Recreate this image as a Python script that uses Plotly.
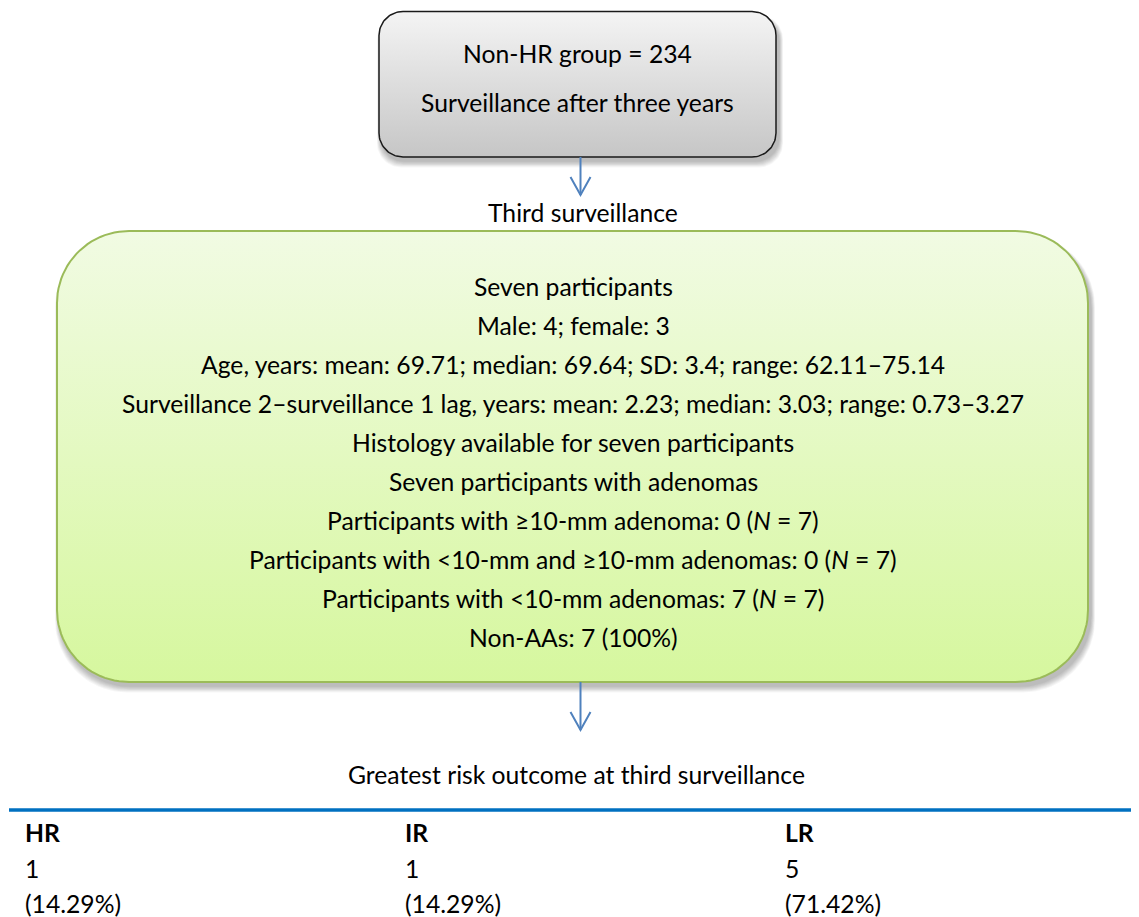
import numpy as np
import plotly.graph_objects as go

W, H = 1139, 917
OFF = 8  # page body margin
FONT = "Lato, 'Open Sans', sans-serif"
FS = 24.7

top_lines = ["Non-HR group = 234", "Surveillance after three years"]
mid_label = "Third surveillance"
green_lines = [
    "Seven participants",
    "Male: 4; female: 3",
    "Age, years: mean: 69.71; median: 69.64; SD: 3.4; range: 62.11–75.14",
    "Surveillance 2–surveillance 1 lag, years: mean: 2.23; median: 3.03; range: 0.73–3.27",
    "Histology available for seven participants",
    "Seven participants with adenomas",
    "Participants with ≥10-mm adenoma: 0 (<i>N</i> = 7)",
    "Participants with <10-mm and ≥10-mm adenomas: 0 (<i>N</i> = 7)",
    "Participants with <10-mm adenomas: 7 (<i>N</i> = 7)",
    "Non-AAs: 7 (100%)",
]
bottom_label = "Greatest risk outcome at third surveillance"
table_headers = ["HR", "IR", "LR"]
table_counts = ["1", "1", "5"]
table_pcts = ["(14.29%)", "(14.29%)", "(71.42%)"]


def rrect(x0, y0, x1, y1, r, n=24):
    xs, ys = [], []
    corners = [
        (x1 - r, y0 + r, -np.pi / 2, 0),
        (x1 - r, y1 - r, 0, np.pi / 2),
        (x0 + r, y1 - r, np.pi / 2, np.pi),
        (x0 + r, y0 + r, np.pi, 1.5 * np.pi),
    ]
    for cx, cy, a0, a1 in corners:
        t = np.linspace(a0, a1, n)
        xs.extend(cx + r * np.cos(t))
        ys.extend(cy + r * np.sin(t))
    xs.append(xs[0])
    ys.append(ys[0])
    return xs, ys


fig = go.Figure()


def shadow(x0, y0, x1, y1, r):
    for i in range(8):
        g = 8 - i
        xs, ys = rrect(x0 + 2 - g * 0.5, y0 + 6 - g * 0.3, x1 + 3 + g * 0.5, y1 + 4 + g * 0.8, r)
        fig.add_trace(go.Scatter(x=xs, y=ys, mode="lines", fill="toself",
                                 line=dict(width=0), fillcolor="rgba(0,0,0,0.035)",
                                 hoverinfo="skip", showlegend=False))


def box(x0, y0, x1, y1, r, ctop, cbot, border, bw):
    shadow(x0, y0, x1, y1, r)
    xs, ys = rrect(x0, y0, x1, y1, r)
    fig.add_trace(go.Scatter(x=xs, y=ys, mode="lines", fill="toself",
                             line=dict(color=border, width=bw),
                             fillgradient=dict(type="vertical",
                                               colorscale=[[0, cbot], [1, ctop]]),
                             hoverinfo="skip", showlegend=False))


box(379, 11.5, 776, 157, 24, "#f4f4f4", "#c6c6c6", "#1a1a1a", 1.5)
box(57, 231, 1088, 682, 72, "#f1fbe3", "#d6f79e", "#9bbb59", 2)


def arrow(x, y0, y1):
    fig.add_shape(type="line", x0=x, x1=x, y0=y0, y1=y1, line=dict(color="#4f81bd", width=2))
    fig.add_shape(type="path", path=f"M {x-10},{y1-18} L {x},{y1} L {x+10},{y1-18}",
                  line=dict(color="#4f81bd", width=2))


arrow(580.5, 157, 195)
arrow(580.5, 682, 730)

fig.add_shape(type="line", x0=9, x1=1150, y0=810, y1=810, line=dict(color="#0070c0", width=3.5))

ann = []
for i, t in enumerate(top_lines):
    ann.append(dict(x=577, y=53 + i * 49, text=t))
ann.append(dict(x=583, y=212, text=mid_label))
for i, t in enumerate(green_lines):
    ann.append(dict(x=573, y=286 + i * 39.1, text=t))
ann.append(dict(x=576, y=774, text=bottom_label))
for a in ann:
    fig.add_annotation(x=a["x"], y=a["y"], text=a["text"], showarrow=False,
                       xanchor="center", yanchor="middle",
                       font=dict(family=FONT, size=FS, color="black"))

col_x = [23, 403, 783]
for cx, h, c, p in zip(col_x, table_headers, table_counts, table_pcts):
    for y, t in [(832, f"<b>{h}</b>"), (868, c), (903, p)]:
        fig.add_annotation(x=cx, y=y, text=t, showarrow=False, xanchor="left",
                           yanchor="middle", font=dict(family=FONT, size=FS, color="black"))

fig.update_xaxes(range=[OFF, W + OFF], visible=False, fixedrange=True)
fig.update_yaxes(range=[H + OFF, OFF], visible=False, fixedrange=True)
fig.update_layout(width=W, height=H, margin=dict(l=0, r=0, t=0, b=0),
                  plot_bgcolor="white", paper_bgcolor="white", showlegend=False)
fig.write_html("out.html")
